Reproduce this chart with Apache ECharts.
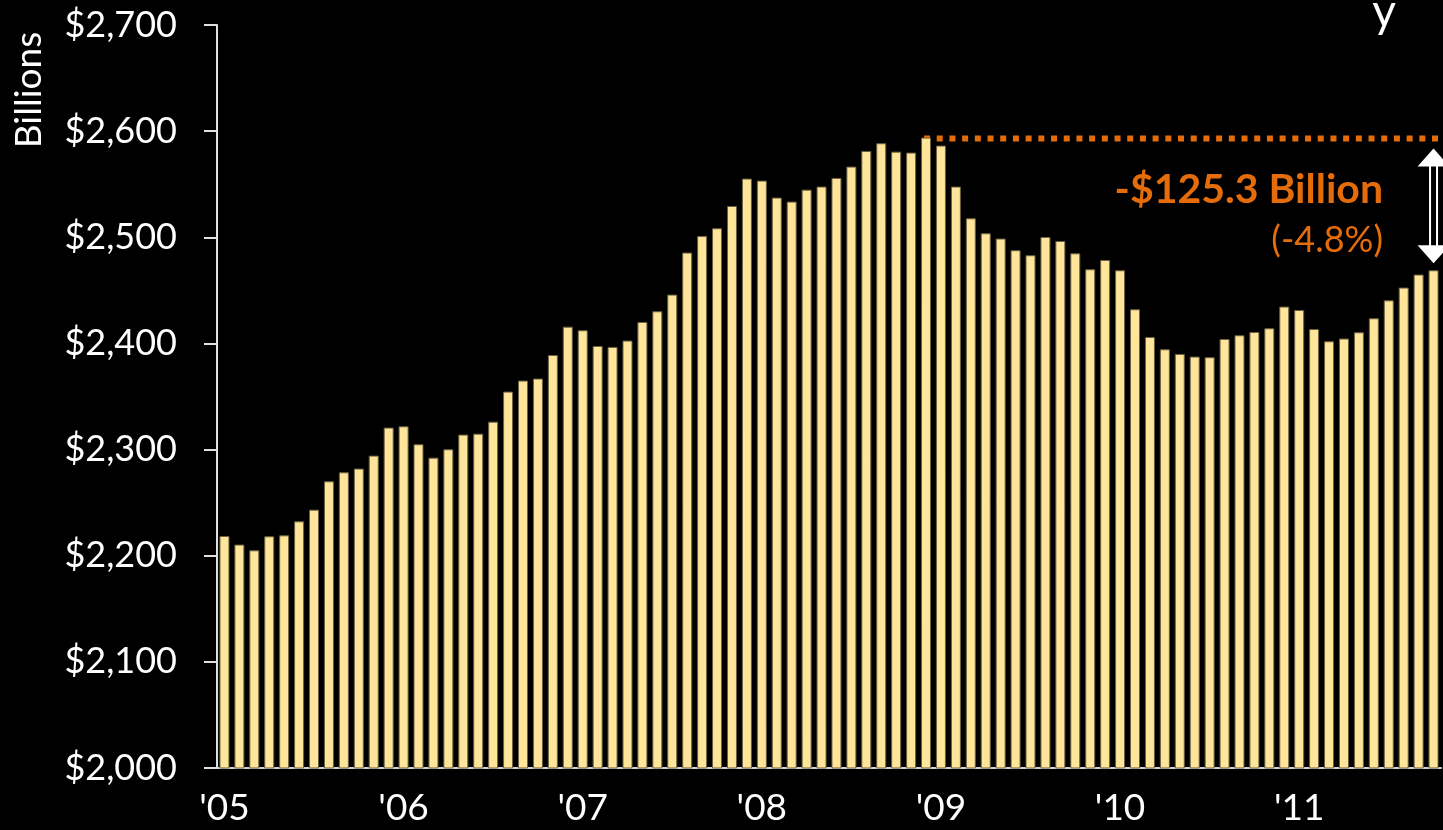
<!DOCTYPE html>
<html>
<head>
<meta charset="utf-8">
<script src="https://cdn.jsdelivr.net/npm/echarts@6/dist/echarts.min.js"></script>
<style>
  html, body { margin: 0; padding: 0; background: #000; }
  #chart { width: 1443px; height: 830px; }
</style>
</head>
<body>
<div id="chart"></div>
<script>
// tick labels
var yearLabels = ["'05", "'06", "'07", "'08", "'09", "'10", "'11"];

// monthly values, $ billions
var values2005 = [2218.6, 2210.5, 2205.1, 2218.3, 2219.2, 2232.4, 2243.4, 2270.1, 2278.6, 2282.1, 2294.3, 2320.7];
var values2006 = [2321.9, 2305.0, 2292.4, 2300.3, 2314.1, 2315.0, 2326.3, 2354.6, 2365.0, 2366.9, 2389.1, 2415.8];
var values2007 = [2412.4, 2397.6, 2396.7, 2402.7, 2420.2, 2430.3, 2446.0, 2485.6, 2501.3, 2508.5, 2529.5, 2555.3];
var values2008 = [2553.4, 2537.4, 2533.6, 2544.9, 2547.8, 2555.9, 2566.6, 2581.3, 2588.6, 2580.7, 2579.8, 2593.9];
var values2009 = [2586.4, 2547.8, 2517.9, 2503.8, 2498.8, 2487.8, 2483.1, 2500.3, 2496.5, 2484.9, 2469.9, 2478.6];
var values2010 = [2468.9, 2432.2, 2406.1, 2394.5, 2390.1, 2387.6, 2387.0, 2404.2, 2407.7, 2410.8, 2414.3, 2434.7];
var values2011 = [2431.5, 2413.6, 2402.0, 2404.6, 2410.5, 2423.7, 2440.6, 2452.6, 2464.9, 2468.9];

var dropLabel = '-$125.3 Billion';
var dropPctLabel = '(-4.8%)';

var values = [].concat(values2005, values2006, values2007, values2008, values2009, values2010, values2011);

// one category per month
var months = [];
for (var i = 0; i < values.length; i++) {
  months.push(yearLabels[Math.floor(i / 12)] + '-' + (i % 12 + 1));
}

// peak bar, where the dotted line starts
var peakIndex = 0;
for (var j = 1; j < values.length; j++) {
  if (values[j] > values[peakIndex]) peakIndex = j;
}
var lastIndex = values.length - 1;

var orange = '#E46C0A';
var font = 'Lato';

var dom = document.getElementById('chart');
var myChart = echarts.init(dom);

var option = {
  backgroundColor: '#000',
  animation: false,
  textStyle: { fontFamily: font, color: '#fff' },
  grid: {
    left: 217,
    right: 2,
    top: 25,
    bottom: 62,
    containLabel: false,
    outerBoundsMode: 'none',
  },
  xAxis: {
    type: 'category',
    data: months,
    axisLine: { lineStyle: { color: '#d0d0d0', width: 2 } },
    axisTick: { show: false },
    axisLabel: {
      interval: 11,
      color: '#fff',
      fontSize: 37,
      fontFamily: font,
      margin: 22,
      formatter: function (value, index) {
        return yearLabels[Math.floor(index / 12)];
      },
    },
  },
  yAxis: {
    type: 'value',
    min: 2000,
    max: 2700,
    interval: 100,
    splitLine: { show: false },
    axisLine: { show: true, lineStyle: { color: '#e0e0e0', width: 2 } },
    axisTick: { show: true, length: 13, lineStyle: { color: '#e0e0e0', width: 2 } },
    axisLabel: {
      color: '#fff',
      fontSize: 36,
      fontFamily: font,
      margin: 40,
      formatter: function (v) {
        return '$' + v.toLocaleString('en-US');
      },
    },
  },
  series: [
    {
      type: 'bar',
      data: values,
      barWidth: 10,
      itemStyle: {
        color: '#FFE599',
        borderColor: '#6b6040',
        borderWidth: 1,
      },
    },
  ],
};

myChart.setOption(option);

// annotation: dotted line from the peak, double arrow, drop labels
var peakPt = myChart.convertToPixel({ gridIndex: 0 }, [peakIndex, values[peakIndex]]);
var lastPt = myChart.convertToPixel({ gridIndex: 0 }, [lastIndex, values[lastIndex]]);
var ax = lastPt[0];
var topTip = peakPt[1] + 11;
var botTip = lastPt[1] - 7;

myChart.setOption({
  graphic: [
    {
      type: 'line',
      z: 0,
      shape: { x1: peakPt[0] - 2, y1: peakPt[1] + 1, x2: 1443, y2: peakPt[1] + 1 },
      style: { stroke: orange, lineWidth: 6, lineDash: [6, 6.7] },
    },
    {
      type: 'rect',
      z: 10,
      shape: { x: ax - 3.5, y: topTip + 15, width: 7, height: botTip - topTip - 30 },
      style: { fill: '#000', stroke: '#fff', lineWidth: 2 },
    },
    {
      type: 'polygon',
      z: 11,
      shape: { points: [[ax, topTip], [ax - 16, topTip + 18], [ax + 16, topTip + 18]] },
      style: { fill: '#fff' },
    },
    {
      type: 'polygon',
      z: 11,
      shape: { points: [[ax, botTip], [ax - 16, botTip - 18], [ax + 16, botTip - 18]] },
      style: { fill: '#fff' },
    },
    {
      type: 'text',
      z: 11,
      x: 1383,
      y: 190,
      style: {
        text: dropLabel,
        fill: orange,
        font: 'bold 41px ' + font,
        textAlign: 'right',
        textVerticalAlign: 'middle',
      },
    },
    {
      type: 'text',
      z: 11,
      x: 1383,
      y: 240,
      style: {
        text: dropPctLabel,
        fill: orange,
        font: '36px ' + font,
        textAlign: 'right',
        textVerticalAlign: 'middle',
      },
    },
    {
      type: 'text',
      x: 29,
      y: 90,
      rotation: Math.PI / 2,
      style: {
        text: 'Billions',
        fill: '#fff',
        font: '37px ' + font,
        textAlign: 'center',
        textVerticalAlign: 'middle',
      },
    },
    // bottom of a cut-off title glyph at the top edge
    {
      type: 'text',
      x: 1384,
      y: 12,
      style: {
        text: 'y',
        fill: '#fff',
        font: '46px ' + font,
        textAlign: 'center',
        textVerticalAlign: 'middle',
      },
    },
  ],
});
</script>
</body>
</html>
